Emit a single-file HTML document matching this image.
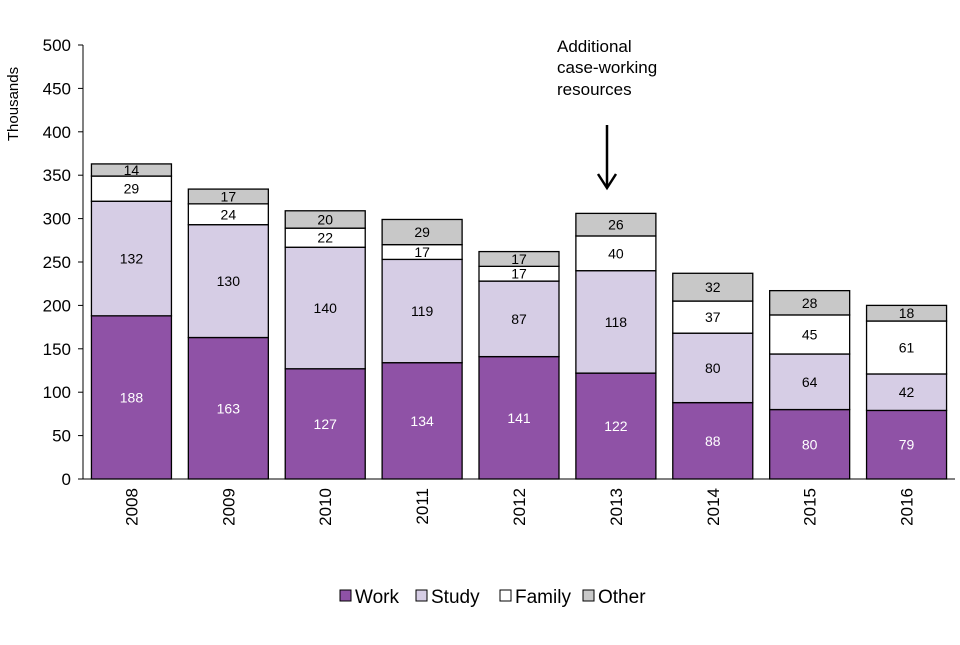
<!DOCTYPE html>
<html><head><meta charset="utf-8"><style>
body{margin:0;background:#fff;font-family:"Liberation Sans",Arial,sans-serif}
svg text{font-family:"Liberation Sans",Arial,sans-serif}
</style></head><body>
<svg id="chart" width="960" height="640" xmlns="http://www.w3.org/2000/svg">
<g id="axes"></g><g id="bars"></g>
<text x="18" y="104" font-size="15" transform="rotate(-90 18 104)" text-anchor="middle">Thousands</text>
<g>
<text x="557" y="52" font-size="17">Additional</text>
<text x="557" y="73" font-size="17">case-working</text>
<text x="557" y="95" font-size="17">resources</text>
<line x1="607" y1="125" x2="607" y2="186" stroke="#000" stroke-width="2.5"/>
<path d="M598 174 L607 188 L616 174" fill="none" stroke="#000" stroke-width="2.5"/>
</g>
<g id="legend"></g>
</svg>
<script>
const years=["2008","2009","2010","2011","2012","2013","2014","2015","2016"];
const work=[188,163,127,134,141,122,88,80,79];
const study=[132,130,140,119,87,118,80,64,42];
const family=[29,24,22,17,17,40,37,45,61];
const other=[14,17,20,29,17,26,32,28,18];
const yTicks=[0,50,100,150,200,250,300,350,400,450,500];
const seriesNames=["Work","Study","Family","Other"];
const NS="http://www.w3.org/2000/svg";
const x0=83,plotW=872,y0=479,yTop=45,yMax=500;
const bw=years.length?plotW/years.length:0, barW=80;
function y(v){return y0-v*(y0-yTop)/yMax;}
function xc(i){return x0+bw*(i+0.5);}
function mk(tag,attrs,parent){const e=document.createElementNS(NS,tag);for(const k in attrs)e.setAttribute(k,attrs[k]);parent.appendChild(e);return e;}
const axes=document.getElementById('axes'),bars=document.getElementById('bars'),leg=document.getElementById('legend');
let a=mk('line',{x1:x0,y1:yTop,x2:x0,y2:y0,stroke:'#000','stroke-width':1},axes);


a=mk('line',{x1:x0,y1:y0,x2:x0+plotW,y2:y0,stroke:'#000','stroke-width':1},axes);


yTicks.forEach(t=>{
 const l=mk('line',{x1:x0-5,y1:y(t),x2:x0,y2:y(t),stroke:'#000'},axes);
 
 
 const tx=mk('text',{x:x0-12,y:y(t)+6,'font-size':17,'text-anchor':'end'},axes);
 tx.textContent=t;
 
 
});
const series=[work,study,family,other];
const fills=["#8f52a6","#d6cde5","#ffffff","#c8c8c8"];
const txtCol=["#fff","#000","#000","#000"];
years.forEach((yr,i)=>{
 let base=0;
 series.forEach((s,k)=>{
  const v=s[i];
  const r=mk('rect',{x:xc(i)-barW/2,y:y(base+v),width:barW,height:y(base)-y(base+v),fill:fills[k],stroke:'#000','stroke-width':1.3},bars);
  
  
  const t=mk('text',{x:xc(i),y:(y(base)+y(base+v))/2+5,'font-size':14,'text-anchor':'middle',fill:txtCol[k]},bars);
  t.textContent=v;
  
  
  base+=v;
 });
 const lx=xc(i)+6,ly=y0+9;
 const t=mk('text',{x:lx,y:ly,'font-size':17,'text-anchor':'end',transform:`rotate(-90 ${lx} ${ly})`},axes);
 t.textContent=yr;
 
 
});
const lxs=[340,416,500,583];
seriesNames.forEach((n,k)=>{
 const r=mk('rect',{x:lxs[k],y:590,width:11,height:11,fill:fills[k],stroke:'#000'},leg);
 
 
 const t=mk('text',{x:lxs[k]+15,y:603,'font-size':19},leg);
 t.textContent=n;
 
 
});
</script>
</body></html>
